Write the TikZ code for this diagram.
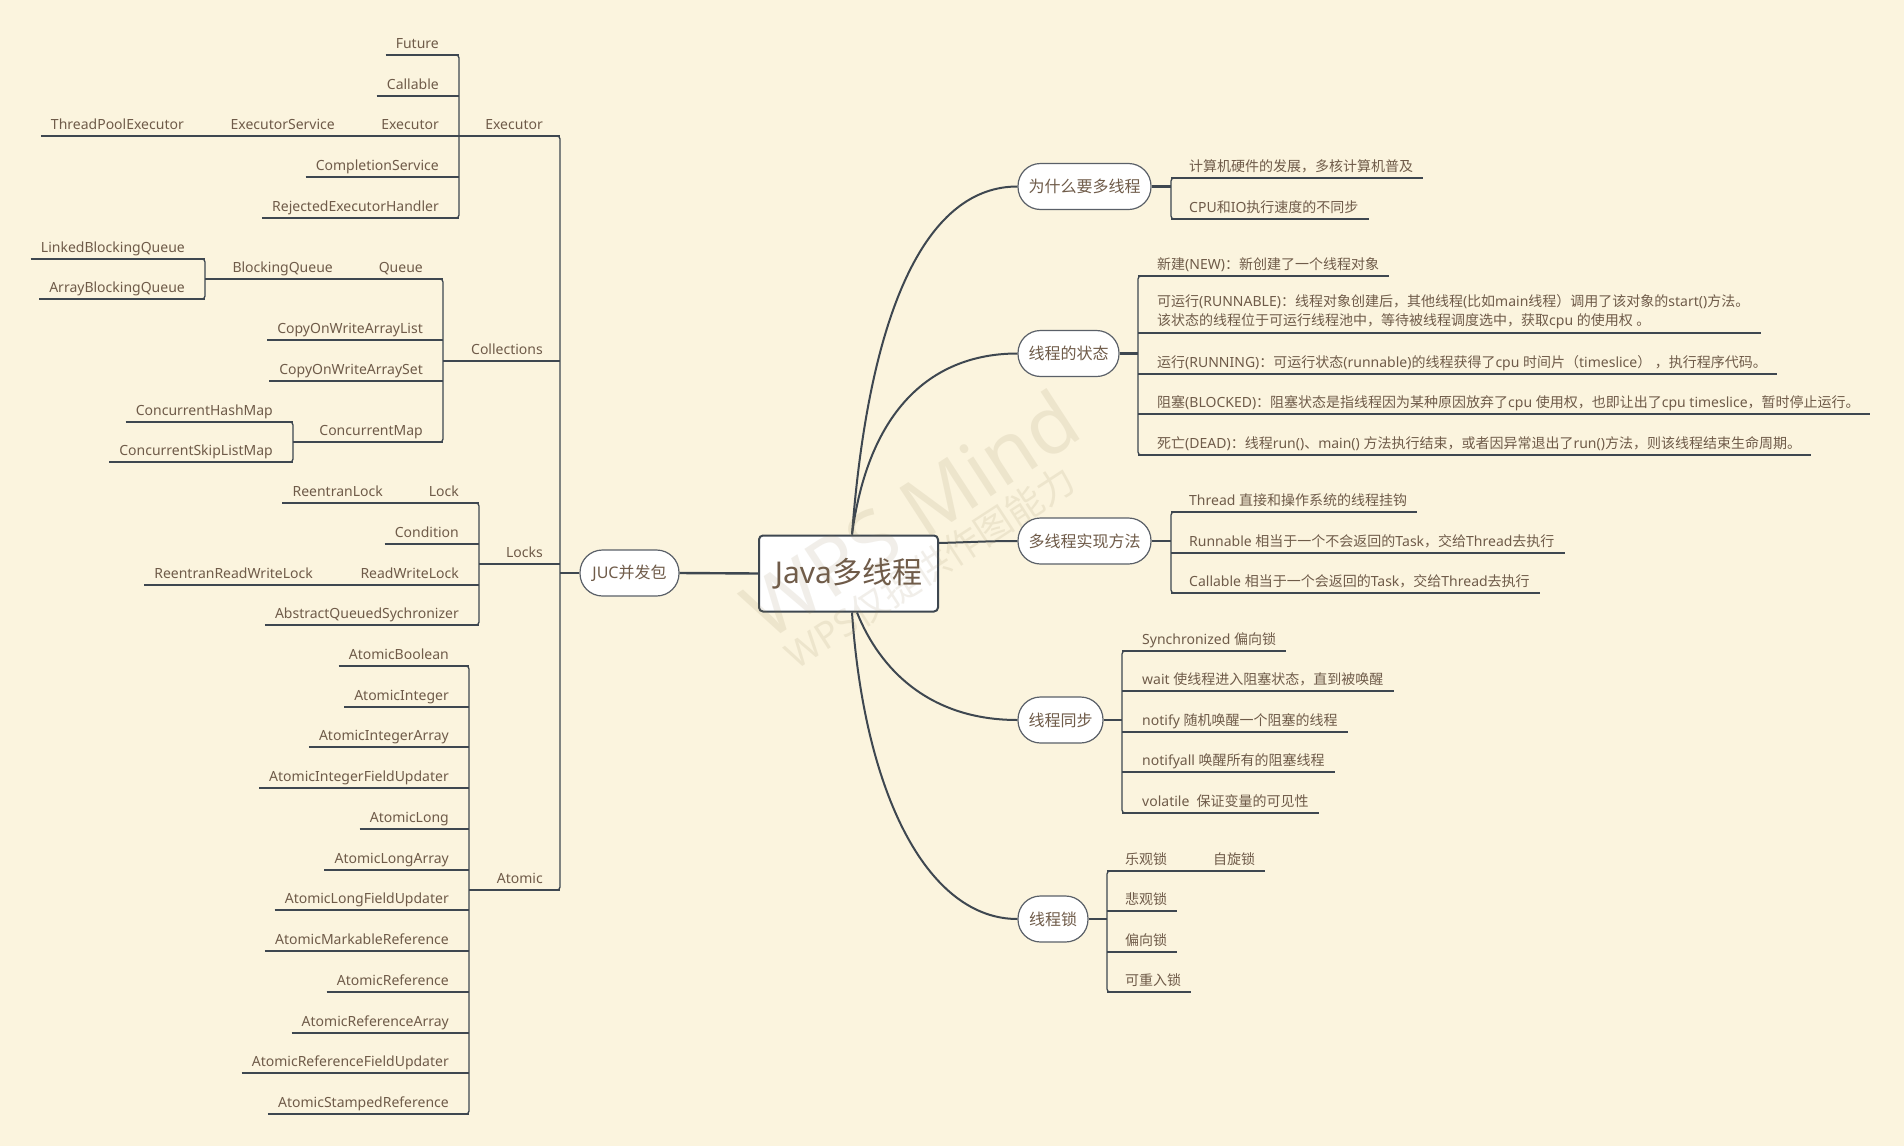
\documentclass[tikz,border=0pt]{standalone}
\usepackage{fontspec}
\setmainfont{Noto Sans}
\newfontfamily\cjkf{Noto Sans CJK SC}
\newfontfamily\latf{Noto Sans}
\usetikzlibrary{calc}
\XeTeXinterchartokenstate=1
\newXeTeXintercharclass\cjkcls
\newcount\cjkcnt
\def\cjkrange#1#2{\cjkcnt=#1\relax\loop\XeTeXcharclass\cjkcnt=\cjkcls\relax\ifnum\cjkcnt<#2\relax\advance\cjkcnt by 1\repeat}
\cjkrange{"3000}{"303F}
\cjkrange{"4E00}{"9FFF}
\cjkrange{"FF00}{"FFEF}
\XeTeXinterchartoks 0 \cjkcls = {\cjkf}
\XeTeXinterchartoks 4095 \cjkcls = {\cjkf}
\XeTeXinterchartoks \cjkcls 0 = {\latf}
\XeTeXinterchartoks \cjkcls 4095 = {\latf}
\definecolor{bg}{HTML}{FBF4DE}
\definecolor{tc}{HTML}{6F5B49}
\definecolor{lc}{HTML}{3E4750}
\definecolor{bc}{HTML}{5A6068}
\definecolor{wmc}{HTML}{8C7B52}
\newcommand\tL[4]{\node[lf,anchor=base east] (#1) at (#2,#3-7) {#4};}
\newcommand\tR[4]{\node[lf,anchor=base west] (#1) at (#2,#3-7) {#4};}
\newcommand\leafL[5]{\tL{#1}{#3}{#4}{#5}\coordinate (#1u) at ([xshift=-10pt,yshift=-7pt]#1.base west);\draw[ln] (#1u) -- (#1u -| #2);}
\newcommand\leafR[5]{\tR{#1}{#3}{#4}{#5}\coordinate (#1u) at ([xshift=10pt,yshift=-7pt]#1.base east);\draw[ln] (#1u -| #2) -- (#1u);}
\newcommand\parL[3]{\coordinate (#1u) at ([yshift=-7pt]#1.base west);\draw[ln] (#1u -| #2) -- (#1u -| #3);}
\newcommand\brL[3]{\draw[ln,rounded corners=3pt] ($(#1)+(-8,#2)$) -- ($(#1)+(0,#2)$) -- ($(#1)+(0,#3)$) -- ($(#1)+(-8,#3)$);}
\newcommand\brR[3]{\draw[ln,rounded corners=3pt] ($(#1)+(8,#2)$) -- ($(#1)+(0,#2)$) -- ($(#1)+(0,#3)$) -- ($(#1)+(8,#3)$);}
\begin{document}
\begin{tikzpicture}[x=1pt,y=-1pt,
  lf/.style={inner sep=0pt,text=tc,font=\fontsize{14}{19}\selectfont},
  ln/.style={draw=lc,line width=1.3pt},
  lnb/.style={draw=lc,line width=2.4pt},
  cv/.style={draw=lc,line width=2pt},
  topic/.style={draw=bc,line width=1.2pt,fill=white,rounded corners=22.5pt,minimum height=46pt,inner xsep=0pt,inner ysep=0pt,text=tc,font=\fontsize{16}{19}\selectfont},
  mainnode/.style={draw=lc,line width=2pt,fill=white,rounded corners=4pt,minimum width=179pt,minimum height=76pt,inner sep=0pt,text=tc,font=\fontsize{30}{34}\selectfont},
  wm/.style={inner sep=0pt,text=wmc,text opacity=0.12}]
\useasboundingbox (0,0) rectangle (1904,1146);
\fill[bg] (0,0) rectangle (1904,1146);
% ---------- central and main topics
\node[mainnode] (c) at (848.5,573.5) {Java多线程};
\node[topic,minimum width=99pt] (juc) at (629.5,573) {JUC并发包};
\node[topic,minimum width=133pt] (why) at (1084.5,186.5) {为什么要多线程};
\node[topic,minimum width=101pt] (st) at (1068.5,353.5) {线程的状态};
\node[topic,minimum width=133pt] (impl) at (1084.5,541) {多线程实现方法};
\node[topic,minimum width=85pt] (sync) at (1060.5,720) {线程同步};
\node[topic,minimum width=70pt] (lock) at (1053,919) {线程锁};
\draw[cv] ([xshift=3.5pt]c.north) .. controls (870,300) and (930,186.5) .. (why.west);
\draw[cv] ([xshift=3.5pt]c.north) .. controls (870,400) and (940,353.5) .. (st.west);
\draw[cv] ($(c.north east)+(0,8.5)$) .. controls (975,542) and (990,541) .. (impl.west);
\draw[cv] ([xshift=8.5pt]c.south) .. controls (880,670) and (930,720) .. (sync.west);
\draw[cv] ([xshift=3.5pt]c.south) .. controls (865,800) and (930,919) .. (lock.west);
\draw[lnb] (c.west) -- (juc.east);
% ---------- bracket coordinates
\coordinate (T) at (560,0);
\coordinate (bEx) at (459,0);
\coordinate (bCol) at (443,0);
\coordinate (bBQ) at (205,0);
\coordinate (bCM) at (293,0);
\coordinate (bLk) at (479,0);
\coordinate (bAt) at (469,0);
\coordinate (bW) at (1171,0);
\coordinate (bS) at (1138,0);
\coordinate (bI) at (1171,0);
\coordinate (bY) at (1122,0);
\coordinate (bL) at (1107,0);
\draw[lnb] (juc.west) -- (juc.west -| T);
\draw[lnb] (why.east) -- (why.east -| bW);
\draw[lnb] (st.east) -- (st.east -| bS);
\draw[lnb] (impl.east) -- (impl.east -| bI);
\draw[lnb] (sync.east) -- (sync.east -| bY);
\draw[lnb] (lock.east) -- (lock.east -| bL);
% ---------- left: JUC
\tL{ex}{543}{136}{Executor}
\tL{col}{543}{361}{Collections}
\tL{lks}{543}{564}{Locks}
\tL{at}{543}{890}{Atomic}
\parL{ex}{bEx}{T}
\parL{col}{bCol}{T}
\parL{lks}{bLk}{T}
\parL{at}{bAt}{T}
\brL{T}{136}{890}
% Executor
\leafL{fut}{bEx}{439}{55}{Future}
\leafL{cal}{bEx}{439}{96}{Callable}
\tL{exb}{439}{136}{Executor}
\tL{exs}{335}{136}{ExecutorService}
\leafL{tpe}{bEx}{184}{136}{ThreadPoolExecutor}
\leafL{cs}{bEx}{439}{177}{CompletionService}
\leafL{reh}{bEx}{439}{218}{RejectedExecutorHandler}
\brL{bEx}{55}{218}
% Collections
\tL{que}{423}{279}{Queue}
\tL{bq}{333}{279}{BlockingQueue}
\parL{bq}{bBQ}{bCol}
\leafL{lbq}{bBQ}{185}{259}{LinkedBlockingQueue}
\leafL{abq}{bBQ}{185}{299}{ArrayBlockingQueue}
\brL{bBQ}{259}{299}
\leafL{cowl}{bCol}{423}{340}{CopyOnWriteArrayList}
\leafL{cows}{bCol}{423}{381}{CopyOnWriteArraySet}
\tL{cm}{423}{442}{ConcurrentMap}
\parL{cm}{bCM}{bCol}
\leafL{chm}{bCM}{273}{422}{ConcurrentHashMap}
\leafL{csl}{bCM}{273}{462}{ConcurrentSkipListMap}
\brL{bCM}{422}{462}
\brL{bCol}{279}{442}
% Locks
\tL{lk}{459}{503}{Lock}
\leafL{rl}{bLk}{383}{503}{ReentranLock}
\leafL{cond}{bLk}{459}{544}{Condition}
\tL{rwl}{459}{585}{ReadWriteLock}
\leafL{rrwl}{bLk}{313}{585}{ReentranReadWriteLock}
\leafL{aqs}{bLk}{459}{625}{AbstractQueuedSychronizer}
\brL{bLk}{503}{625}
% Atomic
\leafL{a1}{bAt}{449}{666}{AtomicBoolean}
\leafL{a2}{bAt}{449}{707}{AtomicInteger}
\leafL{a3}{bAt}{449}{747}{AtomicIntegerArray}
\leafL{a4}{bAt}{449}{788}{AtomicIntegerFieldUpdater}
\leafL{a5}{bAt}{449}{829}{AtomicLong}
\leafL{a6}{bAt}{449}{870}{AtomicLongArray}
\leafL{a7}{bAt}{449}{910}{AtomicLongFieldUpdater}
\leafL{a8}{bAt}{449}{951}{AtomicMarkableReference}
\leafL{a9}{bAt}{449}{992}{AtomicReference}
\leafL{a10}{bAt}{449}{1033}{AtomicReferenceArray}
\leafL{a11}{bAt}{449}{1073}{AtomicReferenceFieldUpdater}
\leafL{a12}{bAt}{449}{1114}{AtomicStampedReference}
\brL{bAt}{666}{1114}
% ---------- right
\leafR{w1}{bW}{1189}{178}{计算机硬件的发展，多核计算机普及}
\leafR{w2}{bW}{1189}{219}{CPU和IO执行速度的不同步}
\brR{bW}{178}{219}
\leafR{s1}{bS}{1157}{276}{新建(NEW)：新创建了一个线程对象}
\node[lf,anchor=south west,align=left] (s2) at (1157,329.5) {可运行(RUNNABLE)：线程对象创建后，其他线程(比如main线程）调用了该对象的start()方法。\\该状态的线程位于可运行线程池中，等待被线程调度选中，获取cpu 的使用权 。};
\coordinate (s2e) at ([xshift=12pt]s2.east);
\coordinate (s2l) at (1138,333);
\draw[ln] (s2l) -- (s2e |- s2l);
\leafR{s3}{bS}{1157}{374}{运行(RUNNING)：可运行状态(runnable)的线程获得了cpu 时间片（timeslice） ，执行程序代码。}
\leafR{s4}{bS}{1157}{414}{阻塞(BLOCKED)：阻塞状态是指线程因为某种原因放弃了cpu 使用权，也即让出了cpu timeslice，暂时停止运行。}
\leafR{s5}{bS}{1157}{455}{死亡(DEAD)：线程run()、main() 方法执行结束，或者因异常退出了run()方法，则该线程结束生命周期。}
\brR{bS}{276}{455}
\leafR{i1}{bI}{1189}{512}{Thread 直接和操作系统的线程挂钩}
\leafR{i2}{bI}{1189}{553}{Runnable 相当于一个不会返回的Task，交给Thread去执行}
\leafR{i3}{bI}{1189}{593}{Callable 相当于一个会返回的Task，交给Thread去执行}
\brR{bI}{512}{593}
\leafR{y1}{bY}{1142}{651}{Synchronized 偏向锁}
\leafR{y2}{bY}{1142}{691}{wait 使线程进入阻塞状态，直到被唤醒}
\leafR{y3}{bY}{1142}{732}{notify 随机唤醒一个阻塞的线程}
\leafR{y4}{bY}{1142}{772}{notifyall 唤醒所有的阻塞线程}
\leafR{y5}{bY}{1142}{813}{volatile\ \ 保证变量的可见性}
\brR{bY}{651}{813}
\tR{lg}{1125}{871}{乐观锁}
\leafR{zx}{bL}{1213}{871}{自旋锁}
\leafR{l2}{bL}{1125}{911}{悲观锁}
\leafR{l3}{bL}{1125}{952}{偏向锁}
\leafR{l4}{bL}{1125}{992}{可重入锁}
\brR{bL}{871}{992}
% ---------- watermark
\node[wm,font=\fontsize{80}{86}\selectfont,rotate=33] (wmA) at (910,514) {WPS Mind};
\node[wm,font=\fontsize{37}{40}\selectfont,rotate=33] (wmB) at (930,567) {WPS仅提供作图能力};
\end{tikzpicture}
\end{document}
